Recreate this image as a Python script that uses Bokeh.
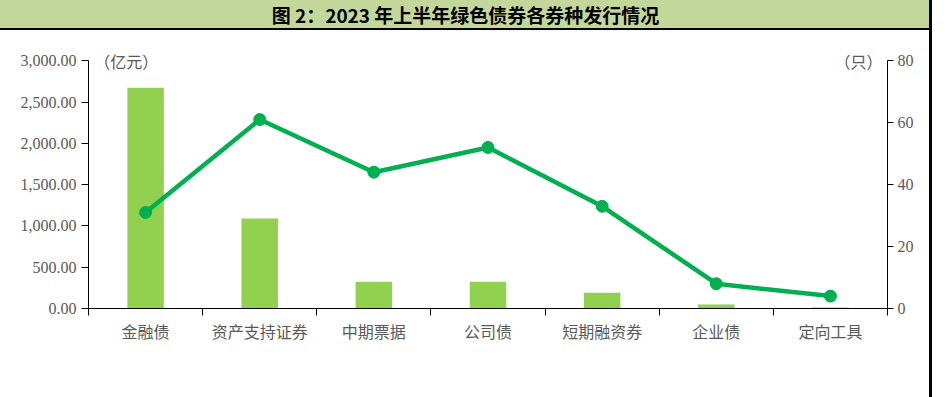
from bokeh.plotting import figure
from bokeh.models import (Range1d, FactorRange, LinearAxis, FixedTicker,
                          NumeralTickFormatter, Legend, LegendItem, Label)
from bokeh.embed import file_html
from bokeh.resources import INLINE

categories = ["金融债", "资产支持证券", "中期票据", "公司债", "短期融资券", "企业债", "定向工具"]
issue_scale = [2674, 1091, 324, 324, 192, 48, 12]      # 发行规模（亿元）
issue_count = [31, 61, 44, 52, 33, 8, 4]                 # 发行只数（只）
left_ticks = [0, 500, 1000, 1500, 2000, 2500, 3000]
right_ticks = [0, 20, 40, 60, 80]
title_text = "图 2：2023 年上半年绿色债券各券种发行情况"

BAR = "#92d050"
LINE = "#00b050"
GRAY = "#595959"
CJK = "Noto Sans CJK SC"
SERIF = "Liberation Serif"

FW, FH = 799, 308
ymax = 3729
n = len(categories)

p = figure(frame_width=FW, frame_height=FH, x_range=FactorRange(*categories),
           y_range=Range1d(0, ymax), title_location=None,
           x_axis_location=None, y_axis_location=None, toolbar_location=None,
           output_backend="svg", min_border_left=88, min_border_right=42,
           min_border_top=0, min_border_bottom=73, outline_line_color=None,
           background_fill_alpha=0, border_fill_alpha=0,
           styles={"outline": "3px solid black",
                   "background": "linear-gradient(to bottom, #c4d79b 0px, #c4d79b 28px, "
                                 "#000000 28px, #000000 30px, #ffffff 30px, #ffffff 100%)"})
p.xgrid.visible = False
p.ygrid.visible = False
p.extra_y_ranges = {"cnt": Range1d(0, ymax / 3000 * 80)}

bars = p.vbar(x=categories, top=issue_scale, width=0.32, color=BAR, line_color=None)
ln = p.line(x=categories, y=issue_count, y_range_name="cnt", line_color=LINE, line_width=4.5)
pts = p.scatter(x=categories, y=issue_count, y_range_name="cnt", size=12, color=LINE)

# title in the green band
p.add_layout(Label(x=3.303, y=3562, text=title_text, text_align="center",
                   text_baseline="middle", text_font=CJK, text_font_style="bold",
                   text_font_size="19px", text_color="black"))

# left axis
la = LinearAxis(ticker=FixedTicker(ticks=left_ticks), bounds=(0, 3000),
                formatter=NumeralTickFormatter(format="0,0.00"))
la.axis_line_color = "black"
la.major_tick_line_color = "black"
la.major_tick_out = 7
la.major_tick_in = 0
la.minor_tick_line_color = None
la.major_label_standoff = 5
la.major_label_text_font = SERIF
la.major_label_text_font_size = "16px"
la.major_label_text_color = GRAY
p.add_layout(la, "left")

# right axis
ra = LinearAxis(y_range_name="cnt", ticker=FixedTicker(ticks=right_ticks), bounds=(0, 80))
ra.axis_line_color = "black"
ra.major_tick_line_color = "black"
ra.major_tick_out = 6
ra.major_tick_in = 0
ra.minor_tick_line_color = None
ra.major_label_standoff = 4
ra.major_label_text_font = SERIF
ra.major_label_text_font_size = "16px"
ra.major_label_text_color = GRAY
p.add_layout(ra, "right")

# x axis: labels at category centres, ticks at category boundaries
centres = [i + 0.5 for i in range(n)]
xa = LinearAxis(ticker=FixedTicker(ticks=centres, minor_ticks=list(range(n + 1))))
xa.major_label_overrides = {c: name for c, name in zip(centres, categories)}
xa.axis_line_color = "black"
xa.major_tick_line_color = None
xa.major_tick_out = 7
xa.major_tick_in = 0
xa.minor_tick_line_color = "black"
xa.minor_tick_out = 7
xa.minor_tick_in = 0
xa.major_label_standoff = 3
xa.major_label_text_font = CJK
xa.major_label_text_font_size = "16px"
xa.major_label_text_color = GRAY
p.add_layout(xa, "below")

# unit labels
p.add_layout(Label(x=0.05, y=3000, text="（亿元）", text_align="left",
                   text_baseline="middle", text_font=CJK, text_font_size="16px",
                   text_color=GRAY))
p.add_layout(Label(x=n - 0.044, y=3000, text="（只）",
                   text_align="right", text_baseline="middle", text_font=CJK,
                   text_font_size="16px", text_color=GRAY))

legend = Legend(items=[LegendItem(label="发行规模", renderers=[bars]),
                       LegendItem(label="发行只数", renderers=[ln, pts])],
                orientation="horizontal", location="center",
                glyph_width=40, glyph_height=14, label_standoff=6, label_width=64,
                spacing=209, padding=1, margin=2,
                border_line_color=None, background_fill_alpha=0,
                label_text_font=CJK, label_text_font_size="16px", label_text_color=GRAY)
p.add_layout(legend, "below")

open("out.html", "w").write(file_html(p, INLINE))
